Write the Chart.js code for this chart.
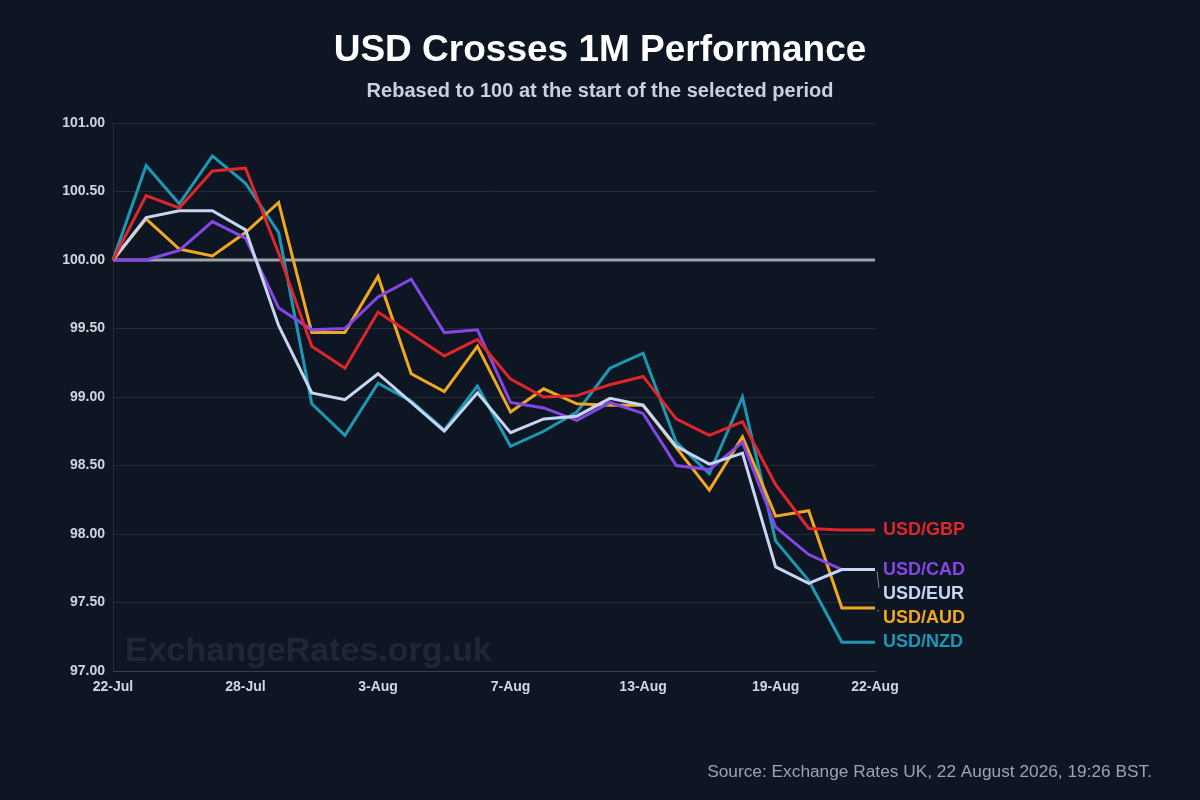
<!DOCTYPE html>
<html>
<head>
<meta charset="utf-8">
<script src="https://cdn.jsdelivr.net/npm/chart.js@4.4.1/dist/chart.umd.min.js"></script>
<style>
  html, body { margin: 0; padding: 0; background: #0e1623; }
  #wrap { position: relative; width: 1200px; height: 800px; }
</style>
</head>
<body>
<div id="wrap"><canvas id="c"></canvas></div>
<script>
const categories = ["22-Jul","23-Jul","24-Jul","27-Jul","28-Jul","29-Jul","30-Jul","31-Jul",
  "3-Aug","4-Aug","5-Aug","6-Aug","7-Aug","10-Aug","11-Aug","12-Aug","13-Aug","14-Aug",
  "17-Aug","18-Aug","19-Aug","20-Aug","21-Aug","22-Aug"];
const tickLabels = ["22-Jul","28-Jul","3-Aug","7-Aug","13-Aug","19-Aug","22-Aug"];

const usdGbp = [100, 100.47, 100.38, 100.65, 100.67, 100.05, 99.37, 99.21, 99.62, 99.46, 99.30, 99.42,
  99.13, 99.00, 99.01, 99.09, 99.15, 98.84, 98.72, 98.82, 98.36, 98.04, 98.03, 98.03];
const usdEur = [100, 100.31, 100.36, 100.36, 100.22, 99.52, 99.03, 98.98, 99.17, 98.96, 98.75, 99.03,
  98.74, 98.84, 98.86, 98.99, 98.94, 98.64, 98.51, 98.59, 97.76, 97.64, 97.74, 97.74];
const usdCad = [100, 100.00, 100.07, 100.28, 100.16, 99.65, 99.49, 99.50, 99.73, 99.86, 99.47, 99.49,
  98.96, 98.92, 98.83, 98.96, 98.88, 98.50, 98.47, 98.67, 98.05, 97.85, 97.74, 97.74];
const usdAud = [100, 100.30, 100.08, 100.03, 100.20, 100.42, 99.47, 99.47, 99.88, 99.17, 99.04, 99.37,
  98.89, 99.06, 98.95, 98.94, 98.94, 98.63, 98.32, 98.71, 98.13, 98.17, 97.46, 97.46];
const usdNzd = [100, 100.69, 100.41, 100.76, 100.56, 100.20, 98.95, 98.72, 99.10, 98.97, 98.76, 99.08,
  98.64, 98.75, 98.89, 99.21, 99.32, 98.67, 98.44, 99.00, 97.95, 97.66, 97.21, 97.21];
const baseline = categories.map(() => 100);

const seriesNames = ["USD/GBP","USD/EUR","USD/CAD","USD/AUD","USD/NZD"];
const seriesColors = ["#e0262a","#c5d5f2","#8447e6","#f0a820","#1d98b4"];
const seriesData = [usdGbp, usdEur, usdCad, usdAud, usdNzd];
const labelOrder = ["USD/GBP","USD/CAD","USD/EUR","USD/AUD","USD/NZD"];

const titleText = "USD Crosses 1M Performance";
const subtitleText = "Rebased to 100 at the start of the selected period";
const sourceText = "Source: Exchange Rates UK, 22 August 2026, 19:26 BST.";
const watermarkText = "ExchangeRates.org.uk";

const FONT = "'Liberation Sans', Arial, Helvetica, sans-serif";

const datasets = seriesData.map((d, i) => ({
  label: seriesNames[i],
  data: d,
  borderColor: seriesColors[i],
  backgroundColor: seriesColors[i],
  borderWidth: 3,
  pointRadius: 0,
  tension: 0,
  fill: false
}));
datasets.push({
  label: "Base",
  data: baseline,
  borderColor: "#9ca3ab",
  borderWidth: 3,
  pointRadius: 0,
  tension: 0,
  fill: false
});

const extrasPlugin = {
  id: 'extras',
  beforeDatasetsDraw(chart) {
    const ctx = chart.ctx, a = chart.chartArea;
    ctx.save();
    ctx.font = "bold 34px " + FONT;
    ctx.fillStyle = "rgba(255,255,255,0.075)";
    ctx.textAlign = "left";
    ctx.textBaseline = "alphabetic";
    ctx.fillText(watermarkText, a.left + 12, a.bottom - 10);
    ctx.restore();
  },
  afterDatasetsDraw(chart) {
    const ctx = chart.ctx, a = chart.chartArea, ys = chart.scales.y;
    const W = chart.width;
    const items = seriesData.map((d, i) => {
      const y = ys.getPixelForValue(d[d.length - 1]);
      return { name: seriesNames[i], color: seriesColors[i], y0: y, y: y };
    }).sort((p, q) => (p.y0 - q.y0) || (labelOrder.indexOf(p.name) - labelOrder.indexOf(q.name)));
    for (let i = 1; i < items.length; i++) {
      if (items[i].y < items[i - 1].y + 24) items[i].y = items[i - 1].y + 24;
    }
    ctx.save();
    ctx.font = "bold 18px " + FONT;
    ctx.textAlign = "left";
    ctx.textBaseline = "middle";
    items.forEach(it => {
      if (Math.abs(it.y - it.y0) > 1) {
        ctx.strokeStyle = "rgba(200,205,215,0.6)";
        ctx.lineWidth = 1;
        ctx.beginPath();
        ctx.moveTo(a.right + 2, it.y0 + 2);
        ctx.lineTo(a.right + 4, it.y - 6);
        ctx.stroke();
      }
      ctx.fillStyle = it.color;
      ctx.fillText(it.name, a.right + 8, it.y);
    });

    ctx.textAlign = "center";
    ctx.textBaseline = "alphabetic";
    ctx.font = "bold 37px " + FONT;
    ctx.fillStyle = "#ffffff";
    ctx.fillText(titleText, W / 2, 61);
    ctx.font = "bold 20px " + FONT;
    ctx.fillStyle = "#c9d1dc";
    ctx.fillText(subtitleText, W / 2, 97);

    ctx.font = "17.3px " + FONT;
    ctx.fillStyle = "#9aa3ae";
    ctx.textAlign = "right";
    ctx.fillText(sourceText, 1152, 777);
    ctx.restore();
  }
};

new Chart(document.getElementById('c'), {
  type: 'line',
  data: { labels: categories, datasets: datasets },
  options: {
    responsive: true,
    maintainAspectRatio: false,
    animation: false,
    layout: { padding: { top: 123, right: 325, bottom: 99, left: 0 } },
    plugins: {
      legend: { display: false },
      tooltip: { enabled: false },
      title: { display: false },
      subtitle: { display: false }
    },
    scales: {
      x: {
        grid: { display: false, drawTicks: false },
        border: { display: true, color: "rgba(255,255,255,0.1)" },
        afterFit(scale) { scale.height = 30; },
        ticks: {
          autoSkip: false, maxRotation: 0, padding: 8,
          color: "#cfd6df", font: { family: FONT, size: 14, weight: 'bold' },
          callback(v, i) { const l = categories[i]; return tickLabels.includes(l) ? l : ''; }
        }
      },
      y: {
        min: 97, max: 101,
        grid: { color: "rgba(255,255,255,0.09)", drawTicks: false, lineWidth: 1 },
        border: { display: true, color: "rgba(255,255,255,0.1)" },
        afterFit(scale) { scale.width = 113; },
        ticks: {
          stepSize: 0.5, padding: 8,
          color: "#cfd6df", font: { family: FONT, size: 14, weight: 'bold' },
          callback(v) { return Number(v).toFixed(2); }
        }
      }
    }
  },
  plugins: [extrasPlugin]
});
</script>
</body>
</html>
